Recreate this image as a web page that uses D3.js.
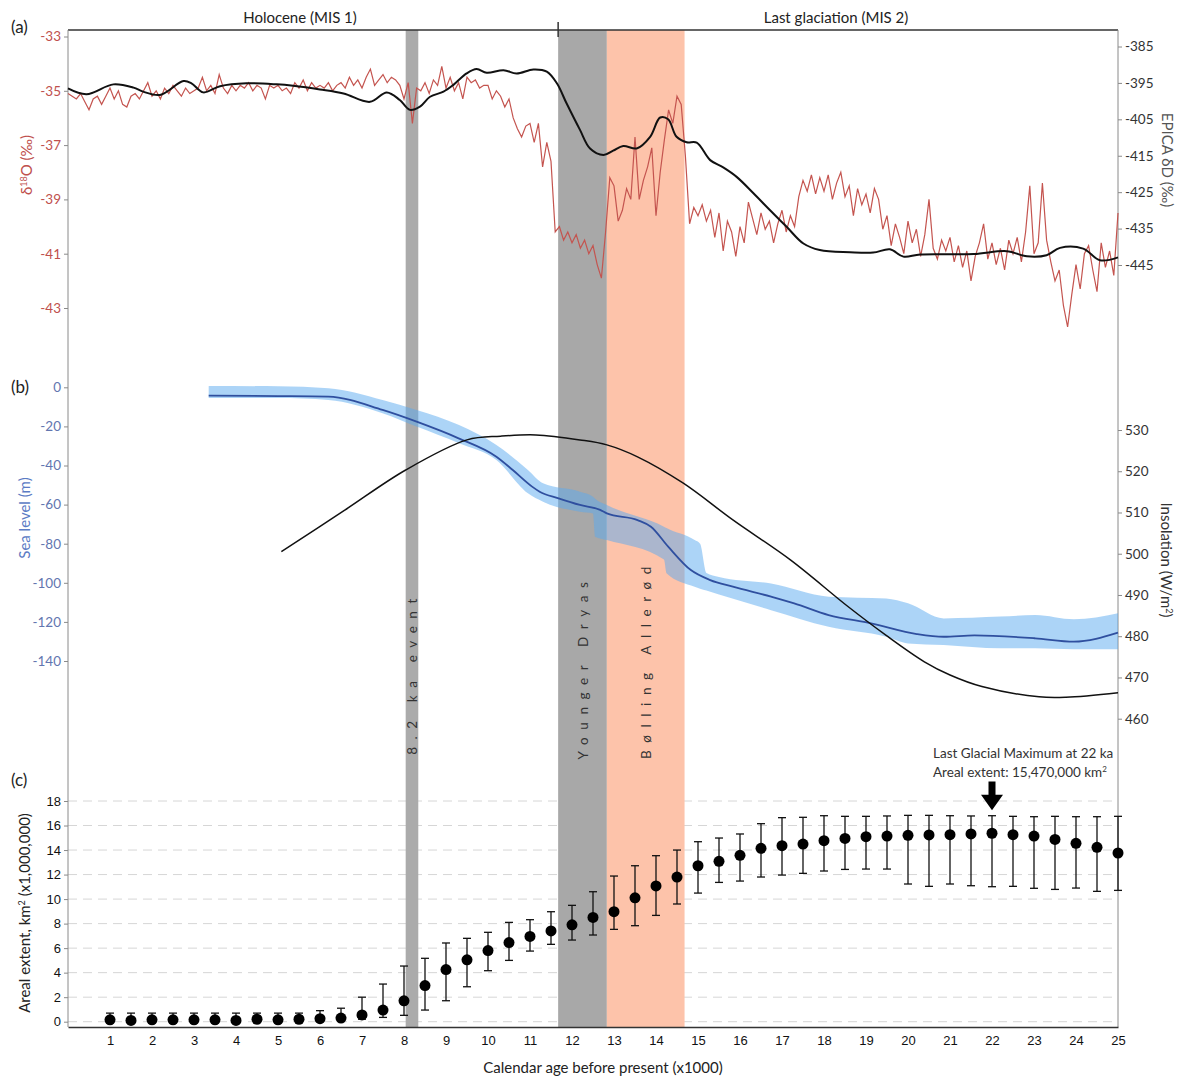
<!DOCTYPE html>
<html>
<head>
<meta charset="utf-8">
<script src="https://cdn.jsdelivr.net/npm/d3@7"></script>
<style>
body { margin: 0; background: #fff; }
text { font-family: Lato, "Open Sans", sans-serif; }
</style>
</head>
<body>
<script>
// (a) NGRIP d18O, one value every 0.1 ka from 0 to 25 ka
const d18oStep = 0.1;
const d18oValues = [
    -35.1, -35.2, -35.3, -35.1, -35.4, -35.7, -35.3, -35.2, -35.5, -35.2,
    -34.9, -35.3, -35.0, -35.5, -35.6, -35.2, -35.1, -35.3, -35.0, -34.7,
    -35.2, -35.0, -35.3, -34.9, -35.1, -34.8, -35.0, -35.2, -34.9, -35.1,
    -35.0, -34.9, -34.5, -35.0, -34.8, -35.1, -34.4, -34.9, -35.1, -34.8,
    -35.0, -34.8, -34.9, -34.7, -35.0, -34.8, -34.9, -35.3, -34.8, -34.9,
    -34.8, -35.0, -34.9, -35.1, -34.7, -34.9, -34.6, -35.0, -34.7, -34.9,
    -34.8, -34.9, -34.7, -35.0, -34.8, -34.7, -34.9, -34.5, -34.8, -34.6,
    -34.9, -34.5, -34.2, -34.8, -34.6, -34.4, -34.7, -34.5, -34.6, -34.8,
    -35.3, -34.7, -36.2, -34.9, -35.0, -34.7, -35.1, -34.6, -34.8, -34.1,
    -34.9, -34.5, -35.0, -34.7, -35.3, -34.5, -34.7, -34.6, -34.9, -34.8,
    -34.8, -35.3, -35.0, -35.2, -35.6, -35.3, -36.0, -36.4, -36.7, -36.3,
    -36.2, -36.9, -36.2, -37.8, -36.9, -37.6, -40.2, -40.0, -40.5, -40.2,
    -40.6, -40.3, -40.8, -40.5, -41.0, -40.7, -41.4, -41.9, -40.2, -38.2,
    -38.5, -39.8, -39.4, -38.6, -39.0, -36.7, -39.0, -38.3, -37.8, -37.1,
    -39.6, -38.0, -36.8, -35.7, -36.2, -35.2, -35.5, -37.4, -39.9, -39.3,
    -39.6, -39.2, -39.8, -39.4, -40.4, -39.5, -40.9, -39.8, -40.2, -41.1,
    -40.0, -40.6, -39.1, -39.7, -40.3, -39.5, -40.1, -39.8, -40.6, -39.9,
    -39.4, -40.2, -39.6, -40.0, -38.9, -38.3, -38.7, -38.1, -38.8, -38.2,
    -38.7, -38.1, -39.0, -38.4, -38.0, -38.9, -38.5, -39.6, -38.6, -39.2,
    -38.8, -39.5, -38.6, -39.0, -40.1, -39.6, -40.7, -39.9, -40.4, -41.0,
    -39.8, -40.6, -40.1, -41.1, -40.3, -39.0, -40.8, -41.2, -40.5, -40.9,
    -40.4, -41.3, -40.7, -41.5, -40.9, -42.0, -41.1, -40.6, -39.9, -41.2,
    -40.6, -41.4, -40.8, -41.6, -40.5, -41.0, -40.4, -41.3, -40.2, -38.5,
    -41.0, -40.6, -38.4, -40.5, -41.3, -42.0, -41.6, -42.9, -43.7, -42.5,
    -41.4, -42.3, -41.0, -40.7, -41.6, -42.4, -40.6, -41.5, -40.9, -41.8,
    -39.5
];

// (a) EPICA dD
const epicaAge = [0, 0.44, 1.08, 1.56, 1.79, 2.19, 2.75, 2.94, 3.22, 3.62, 4.25, 4.97, 5.36, 6.0, 6.56,
    7.19, 7.59, 7.9, 8.14, 8.38, 8.62, 8.94, 9.17, 9.49, 9.73, 9.97, 10.37, 10.68, 11.08, 11.4,
    11.64, 11.87, 12.19, 12.43, 12.75, 12.98, 13.22, 13.54, 13.86, 14.1, 14.29, 14.49, 14.73, 14.97,
    15.29, 15.6, 15.92, 16.32, 16.71, 17.11, 17.51, 17.9, 18.62, 19.17, 19.57, 19.89, 20.29, 21.56,
    22.35, 22.83, 23.3, 23.62, 24.17, 24.57, 25];
const epicaDD = [-396.5, -398.1, -395.4, -396.3, -397.4, -398.3, -394.5, -395.1, -397.6, -395.9, -395.1, -395.4, -395.8, -396.8, -397.9,
    -400.2, -397.6, -399.7, -402.4, -401.5, -398.8, -397.4, -395.6, -392.4, -391.2, -392.2, -391.5, -392.4, -391.3, -391.9,
    -395.1, -400.6, -407.9, -413.0, -414.8, -413.6, -412.3, -413.0, -409.8, -404.5, -405.0, -409.8, -411.3, -411.4,
    -416.2, -418.2, -420.8, -425.3, -429.9, -434.5, -439.1, -440.9, -441.5, -441.6, -440.7, -442.7, -442.1, -442.0,
    -441.2, -442.6, -442.3, -440.3, -440.5, -443.7, -442.9];

// (b) sea level (m)
const seaAge = [3.35, 5.0, 6.2, 7.49, 8.3, 9.3, 10.2, 10.59, 11.05, 11.23, 11.68, 12.19, 12.67, 12.83, 13.56, 13.88,
    14.29, 14.83, 15.29, 15.83, 16.74, 17.29, 18.11, 19.12, 20.21, 20.85, 21.58, 23.03, 23.95, 25];
const seaLevel = [-4.3, -4.5, -4.8, -11.6, -17.6, -26.1, -35.5, -42.3, -50.8, -53.4, -56.8, -60.2, -62.7, -64.5, -67.9, -71.3,
    -81.5, -93.5, -98.6, -102, -107.1, -110.5, -116.5, -120.7, -126.2, -127.6, -126.9, -128.4, -130.1, -125.5];
const seaBandAge = [3.35, 5.0, 6.2, 7.49, 8.3, 9.31, 10.2, 10.95, 11.31, 12.19, 12.5, 12.55, 12.83, 14.19, 14.25,
    14.92, 15.05, 15.2, 15.5, 16.74, 18.11, 19.48, 20.0, 20.85, 22.2, 23.03, 23.95, 25];
const seaUpper = [0.7, 0.5, -0.5, -6.5, -11.6, -19.3, -29.5, -42.3, -49.1, -53.4, -56, -57, -60.2, -71.3, -72,
    -78.1, -80, -95, -97, -100.4, -107.1, -108, -110.5, -118.2, -117.3, -116.5, -118.7, -115.6];
const seaLower = [-5.5, -5.5, -6.5, -13.3, -20.1, -28.6, -37.2, -54.2, -58.5, -63.6, -64.5, -76.4, -78.1, -88.1, -95.1,
    -102, -103, -104, -106, -114, -122.5, -127.6, -131, -131.8, -133.5, -133.5, -134, -134];

// (b) insolation (W/m2)
const insolAge = [5.08, 6.58, 8.04, 9.5, 10.3, 11.14, 12.19, 12.83, 13.56, 14.65, 15.83, 17.2, 18.57, 19.48, 20.39, 21.0, 21.76, 23.12, 23.76, 25];
const insolation = [500.5, 510.5, 520.3, 527.6, 528.5, 528.8, 527.6, 526.4, 523.5, 517.1, 508.2, 498.5, 487.2, 480.2, 473.8, 470.6, 467.8, 465.3, 465.2, 466.3];

// (c) areal extent (x1,000,000 km2)
const extentAge = [1, 1.5, 2, 2.5, 3, 3.5, 4, 4.5, 5, 5.5, 6, 6.5, 7, 7.5, 8, 8.5, 9, 9.5, 10, 10.5, 11, 11.5, 12, 12.5,
    13, 13.5, 14, 14.5, 15, 15.5, 16, 16.5, 17, 17.5, 18, 18.5, 19, 19.5, 20, 20.5, 21, 21.5, 22, 22.5, 23, 23.5, 24, 24.5, 25];
const extent = [0.15, 0.1, 0.15, 0.15, 0.15, 0.15, 0.1, 0.2, 0.15, 0.2, 0.25, 0.3, 0.55, 0.95, 1.7, 2.95, 4.25, 5.05, 5.8, 6.45, 6.95, 7.4, 7.9, 8.5,
    8.97, 10.1, 11.07, 11.8, 12.72, 13.08, 13.57, 14.14, 14.36, 14.49, 14.76, 14.95, 15.09, 15.14, 15.2, 15.23, 15.25, 15.31, 15.37, 15.25, 15.14, 14.87, 14.55, 14.22, 13.76];
const extentUpper = [0.7, 0.7, 0.7, 0.7, 0.7, 0.7, 0.7, 0.7, 0.7, 0.7, 0.9, 1.1, 2.0, 3.07, 4.54, 5.17, 6.42, 6.8, 7.29, 8.1, 8.32, 8.97, 9.49, 10.6,
    11.88, 12.72, 13.54, 14.0, 14.68, 14.98, 15.31, 16.15, 16.64, 16.67, 16.8, 16.75, 16.75, 16.78, 16.83, 16.83, 16.8, 16.78, 16.8, 16.75, 16.72, 16.75, 16.72, 16.72, 16.75];
const extentLower = [0, 0, 0, 0, 0, 0, 0, 0, 0, 0, 0.05, 0.1, 0.2, 0.35, 0.52, 0.95, 1.71, 2.85, 4.16, 5.0, 5.76, 6.31, 6.66, 7.07,
    7.53, 7.83, 8.67, 9.6, 10.49, 11.36, 11.47, 11.8, 11.96, 12.1, 12.29, 12.42, 12.45, 12.45, 11.23, 11.04, 11.23, 11.09, 11.01, 11.04, 10.88, 10.79, 10.9, 10.63, 10.71];

// shaded events
const eventNames = ["8.2 ka event", "Younger Dryas", "Bølling Allerød"];
const eventStart = [8.04, 11.67, 12.83];
const eventEnd = [8.34, 12.83, 14.68];

// tick labels
const xTicks = d3.range(1, 26);
const d18oTicks = [-33, -35, -37, -39, -41, -43];
const epicaTicks = [-385, -395, -405, -415, -425, -435, -445];
const seaTicks = [0, -20, -40, -60, -80, -100, -120, -140];
const insolTicks = [530, 520, 510, 500, 490, 480, 470, 460];
const extentTicks = [0, 2, 4, 6, 8, 10, 12, 14, 16, 18];

const width = 1178, height = 1076;
const plotTop = 30, plotBottom = 1027;

const svg = d3.select("body").append("svg")
    .attr("width", width)
    .attr("height", height)
    .style("background", "#fff");

const x = d3.scaleLinear().domain([0, 25]).range([68, 1118]);
const yA = d3.scaleLinear().domain([-33, -43]).range([36.5, 308]);
const yAR = d3.scaleLinear().domain([-385, -445]).range([46.5, 265]);
const yB = d3.scaleLinear().domain([0, -140]).range([387.3, 661]);
const yBR = d3.scaleLinear().domain([530, 460]).range([430, 718.7]);
const yC = d3.scaleLinear().domain([0, 18]).range([1021.7, 801]);

// dashed grid of panel (c)
svg.append("g")
    .selectAll("line")
    .data(extentTicks)
    .enter().append("line")
    .attr("x1", x(0)).attr("x2", x(25))
    .attr("y1", d => yC(d)).attr("y2", d => yC(d))
    .attr("stroke", "#d6d6d6")
    .attr("stroke-dasharray", "9,6");

// event bands
const bandFill = ["#ababab", "#a8a8a8", "#fdc3aa"];
svg.append("g")
    .selectAll("rect")
    .data(eventNames)
    .enter().append("rect")
    .attr("x", (d, i) => x(eventStart[i]))
    .attr("width", (d, i) => x(eventEnd[i]) - x(eventStart[i]))
    .attr("y", plotTop)
    .attr("height", plotBottom - plotTop)
    .attr("fill", (d, i) => bandFill[i]);

const labelY = [673, 667, 659];
svg.append("g")
    .selectAll("text")
    .data(eventNames)
    .enter().append("text")
    .attr("transform", (d, i) => `translate(${x((eventStart[i] + eventEnd[i]) / 2) + 5},${labelY[i]}) rotate(-90)`)
    .attr("text-anchor", "middle")
    .style("font-size", "13.5px")
    .style("letter-spacing", "7.6px")
    .attr("fill", "#333")
    .text(d => d);

// frame lines
svg.append("line").attr("x1", x(0)).attr("x2", x(25)).attr("y1", plotTop).attr("y2", plotTop)
    .attr("stroke", "#333").attr("stroke-width", 1.5);
svg.append("line").attr("x1", x(11.67)).attr("x2", x(11.67)).attr("y1", plotTop - 8).attr("y2", plotTop + 7)
    .attr("stroke", "#333").attr("stroke-width", 1.5);
svg.append("line").attr("x1", x(0)).attr("x2", x(0)).attr("y1", plotTop).attr("y2", plotBottom)
    .attr("stroke", "#8a8a8a");
svg.append("line").attr("x1", x(25)).attr("x2", x(25)).attr("y1", plotTop).attr("y2", plotBottom)
    .attr("stroke", "#8a8a8a");

svg.append("text").attr("x", 300).attr("y", 23).attr("text-anchor", "middle")
    .style("font-size", "15px").attr("fill", "#222").text("Holocene (MIS 1)");
svg.append("text").attr("x", 836).attr("y", 23).attr("text-anchor", "middle")
    .style("font-size", "15px").attr("fill", "#222").text("Last glaciation (MIS 2)");

// axes helper
function yAxis(axis, xPos, color) {
    const g = svg.append("g")
        .attr("transform", `translate(${xPos},0)`)
        .call(axis.tickSize(4).tickPadding(3).tickFormat(d => String(d)));
    g.select(".domain").remove();
    g.selectAll(".tick line").attr("stroke", "#8a8a8a");
    g.selectAll(".tick text").attr("fill", color).style("font-family", "Lato, sans-serif").style("font-size", "13.5px");
    return g;
}

yAxis(d3.axisLeft(yA).tickValues(d18oTicks), x(0), "#c0504d");
yAxis(d3.axisRight(yAR).tickValues(epicaTicks), x(25), "#333");
yAxis(d3.axisLeft(yB).tickValues(seaTicks), x(0), "#6276b0");
yAxis(d3.axisRight(yBR).tickValues(insolTicks), x(25), "#333");
yAxis(d3.axisLeft(yC).tickValues(extentTicks), x(0), "#111")
    .selectAll(".tick text").style("font-family", "'Liberation Sans', Arial, sans-serif").style("font-size", "13px");

const xAxis = svg.append("g")
    .attr("transform", `translate(0,${plotBottom})`)
    .call(d3.axisBottom(x).tickValues(xTicks).tickSize(0).tickPadding(9));
xAxis.select(".domain").attr("stroke", "#333").attr("stroke-width", 1.3);
xAxis.selectAll(".tick text").attr("fill", "#111")
    .style("font-family", "'Liberation Sans', Arial, sans-serif").style("font-size", "13px");

// axis titles
function vTitle(txt, xPos, yPos, angle, color) {
    svg.append("text")
        .attr("transform", `translate(${xPos},${yPos}) rotate(${angle})`)
        .attr("text-anchor", "middle")
        .style("font-size", "15px")
        .attr("fill", color)
        .text(txt);
}
svg.append("text")
    .attr("transform", "translate(32,165) rotate(-90)")
    .attr("text-anchor", "middle")
    .style("font-size", "15px")
    .attr("fill", "#c0504d")
    .html("δ<tspan dy='-5' font-size='9px'>18</tspan><tspan dy='5'>O (‰)</tspan>");
vTitle("Sea level (m)", 30, 518, -90, "#5b7bc4");
svg.append("text")
    .attr("transform", "translate(30,913) rotate(-90)")
    .attr("text-anchor", "middle")
    .style("font-size", "15px")
    .attr("fill", "#222")
    .html("Areal extent, km<tspan dy='-5' font-size='9px'>2</tspan><tspan dy='5'> (x1,000,000)</tspan>");
vTitle("EPICA δD (‰)", 1162, 160, 90, "#555");
svg.append("text")
    .attr("transform", "translate(1161,560) rotate(90)")
    .attr("text-anchor", "middle")
    .style("font-size", "15px")
    .attr("fill", "#333")
    .html("Insolation (W/m<tspan dy='-5' font-size='9px'>2</tspan><tspan dy='5'>)</tspan>");
svg.append("text").attr("x", 603).attr("y", 1073).attr("text-anchor", "middle")
    .style("font-size", "15px").attr("fill", "#222").text("Calendar age before present (x1000)");

// panel letters
svg.append("text").attr("x", 11).attr("y", 33).style("font-size", "17px").attr("fill", "#222").text("(a)");
svg.append("text").attr("x", 11).attr("y", 393).style("font-size", "17px").attr("fill", "#222").text("(b)");
svg.append("text").attr("x", 11).attr("y", 786).style("font-size", "17px").attr("fill", "#222").text("(c)");

// (a) lines
const d18oLine = d3.line()
    .x((d, i) => x(i * d18oStep))
    .y(d => yA(d));
svg.append("path")
    .datum(d18oValues)
    .attr("d", d18oLine)
    .attr("fill", "none")
    .attr("stroke", "#c4544f")
    .attr("stroke-width", 1.2);

const epicaLine = d3.line()
    .x((d, i) => x(epicaAge[i]))
    .y(d => yAR(d))
    .curve(d3.curveCatmullRom.alpha(0.5));
svg.append("path")
    .datum(epicaDD)
    .attr("d", epicaLine)
    .attr("fill", "none")
    .attr("stroke", "#111")
    .attr("stroke-width", 2);

// (b) sea level band and line
const seaArea = d3.area()
    .x((d, i) => x(seaBandAge[i]))
    .y0((d, i) => yB(seaLower[i]))
    .y1(d => yB(d))
    .curve(d3.curveMonotoneX);
svg.append("path")
    .datum(seaUpper)
    .attr("d", seaArea)
    .attr("fill", "#5aa9f0")
    .attr("fill-opacity", 0.5);

const seaLine = d3.line()
    .x((d, i) => x(seaAge[i]))
    .y(d => yB(d))
    .curve(d3.curveMonotoneX);
svg.append("path")
    .datum(seaLevel)
    .attr("d", seaLine)
    .attr("fill", "none")
    .attr("stroke", "#2f4f9f")
    .attr("stroke-width", 1.8);

const insolLine = d3.line()
    .x((d, i) => x(insolAge[i]))
    .y(d => yBR(d))
    .curve(d3.curveCatmullRom.alpha(0.5));
svg.append("path")
    .datum(insolation)
    .attr("d", insolLine)
    .attr("fill", "none")
    .attr("stroke", "#111")
    .attr("stroke-width", 1.5);

// (c) error bars and points
const bars = svg.append("g").attr("stroke", "#111").attr("stroke-width", 1.3);
extentAge.forEach((a, i) => {
    const cx = x(a);
    bars.append("line").attr("x1", cx).attr("x2", cx).attr("y1", yC(extentUpper[i])).attr("y2", yC(extentLower[i]));
    bars.append("line").attr("x1", cx - 4).attr("x2", cx + 4).attr("y1", yC(extentUpper[i])).attr("y2", yC(extentUpper[i]));
    bars.append("line").attr("x1", cx - 4).attr("x2", cx + 4).attr("y1", yC(extentLower[i])).attr("y2", yC(extentLower[i]));
});
svg.append("g")
    .selectAll("circle")
    .data(extent)
    .enter().append("circle")
    .attr("cx", (d, i) => x(extentAge[i]))
    .attr("cy", d => yC(d))
    .attr("r", 5.5)
    .attr("fill", "#000");

// LGM annotation
const ax = x(22);
svg.append("path")
    .attr("d", `M${ax - 3.5},${yC(19.6)} L${ax + 3.5},${yC(19.6)} L${ax + 3.5},${yC(18.5)} L${ax + 11},${yC(18.5)} L${ax},${yC(17.25)} L${ax - 11},${yC(18.5)} L${ax - 3.5},${yC(18.5)} Z`)
    .attr("fill", "#000");
svg.append("text").attr("x", 933).attr("y", 758).style("font-size", "13.5px").attr("fill", "#333")
    .text("Last Glacial Maximum at 22 ka");
svg.append("text").attr("x", 933).attr("y", 777).style("font-size", "13.5px").attr("fill", "#333")
    .html("Areal extent: 15,470,000 km<tspan dy='-5' font-size='8px'>2</tspan>");
</script>
</body>
</html>
